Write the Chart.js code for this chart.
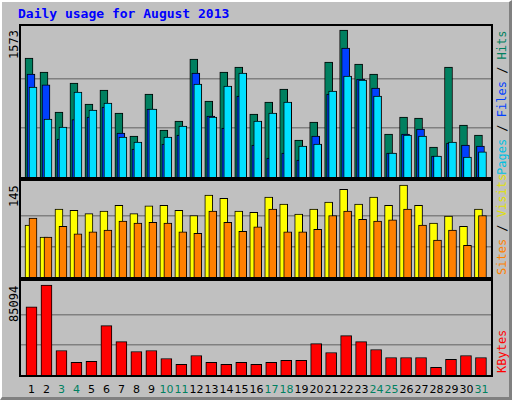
<!DOCTYPE html>
<html><head><meta charset="utf-8">
<script src="https://cdn.jsdelivr.net/npm/chart.js@4"></script>
<style>
html,body{margin:0;padding:0;background:#fff;}
#wrap{position:relative;width:512px;height:400px;background:#C0C0C0;box-sizing:border-box;
 border-top:2px solid #fff;border-left:2px solid #fff;border-right:3px solid #808080;border-bottom:3px solid #808080;overflow:hidden;}
.abs{position:absolute;}
.frame{position:absolute;border:2px solid #000;box-sizing:border-box;}
.rot{position:absolute;transform-origin:0 0;transform:rotate(-90deg);white-space:nowrap;font-family:"DejaVu Sans Mono",monospace;font-size:12px;}
.day{position:absolute;font-family:"DejaVu Sans",sans-serif;font-size:11px;width:20px;text-align:center;top:381px;}
</style></head><body>
<div id="wrap"></div>
<script>
const days=[1,2,3,4,5,6,7,8,9,10,11,12,13,14,15,16,17,18,19,20,21,22,23,24,25,26,27,28,29,30,31];
const weekend=[3,4,10,11,17,18,24,25,31];
const hits=[1273,1124,696,1006,781,931,685,439,888,503,599,1263,813,1124,1177,674,803,942,396,589,1231,1573,1209,1102,460,642,631,321,1177,556,449];
const files=[1102,985,407,614,642,749,471,300,728,353,449,1113,653,524,867,342,203,257,182,439,888,1380,1049,952,257,460,514,225,364,342,332];
const pages=[963,621,535,910,717,792,428,375,728,428,546,995,642,974,1113,599,685,803,332,353,920,1081,1038,867,257,449,439,225,375,214,268];
const visits=[82,63,107,105,100,104,113,100,112,113,105,97,129,124,104,102,126,115,99,107,118,138,115,126,113,145,113,85,96,80,107];
const sites=[93,63,80,68,71,74,88,85,86,85,71,69,104,86,72,79,107,71,71,75,97,104,91,88,90,107,82,58,74,50,97];
const kbytes=[64440,85094,23150,11890,12820,46610,31590,22210,23150,15640,10010,18460,11890,10010,11890,10010,11890,13760,13760,29720,21270,37220,31590,24090,16580,16580,16580,7190,14700,18460,16580];
const maxTop=1573, maxMid=145, maxBot=85094;

const wrap=document.getElementById('wrap');
function el(tag,cls,css,txt){const e=document.createElement(tag);if(cls)e.className=cls;Object.assign(e.style,css);if(txt!=null)e.textContent=txt;wrap.appendChild(e);return e;}
el('div','abs',{left:'16px',top:'4px',font:'bold 13px "DejaVu Sans Mono",monospace',color:'#0000FF'},'Daily usage for August 2013');

function panel(top,h,datasets,max,label,rlabel){
  el('div','frame',{left:'17px',top:(top-2)+'px',width:'474px',height:(h+4)+'px'});
  const c=el('canvas',null,{position:'absolute',left:'19px',top:top+'px',width:'470px',height:h+'px'});
  c.width=470;c.height=h;
  const ymax=max*h/(h-4);
  new Chart(c,{type:'bar',data:{datasets},options:{responsive:false,animation:false,devicePixelRatio:1,
    layout:{padding:0},plugins:{legend:{display:false},tooltip:{enabled:false}},
    scales:{x:{type:'linear',min:0.3,max:31.67,offset:false,display:false},
      y:{min:0,max:ymax,display:true,border:{display:false},
        ticks:{display:false},grid:{drawTicks:false,color:'#808080',lineWidth:1.5},
        afterBuildTicks:s=>{s.ticks=[{value:max/3},{value:2*max/3}];}}}}});
  el('div','rot',{left:'5px',top:(top+3+label.length*7.5)+'px',color:'#000'},label);
  const r=el('div','rot',{left:'493px',top:(top+h-2)+'px'});
  rlabel.forEach(p=>{const s=document.createElement('span');s.textContent=p[0];s.style.color=p[1];r.appendChild(s);});
}
function ds(vals,off,color,w,order){return {data:vals.map((v,i)=>({x:days[i]+off,y:v})),backgroundColor:color,borderColor:'#000',borderWidth:1,borderSkipped:'bottom',barThickness:w,grouped:false,order};}
const px=1/15;
panel(24,151,[ds(hits,-2.5*px,'#008060',8,3),ds(files,-0.5*px,'#0040FF',8,2),ds(pages,1.5*px,'#00E0FF',8,1)],maxTop,'1573',
  [['Pages','#00C0E0'],[' / ','#000'],['Files','#0040FF'],[' / ','#000'],['Hits','#008060']]);
panel(179,96,[ds(visits,-2.5*px,'#FFFF00',8,2),ds(sites,1.5*px,'#FF8000',8,1)],maxMid,'145',
  [['Sites','#FF8000'],[' / ','#000'],['Visits','#E0E000']]);
panel(279,94,[ds(kbytes,0,'#FF0000',11,1)],maxBot,'85094',[['KBytes','#FF0000']]);
days.forEach((d,i)=>{el('div','day',{left:(19+10.5+i*15-10)+'px',color:weekend.includes(d)?'#008060':'#000'},String(d));});
</script></body></html>
